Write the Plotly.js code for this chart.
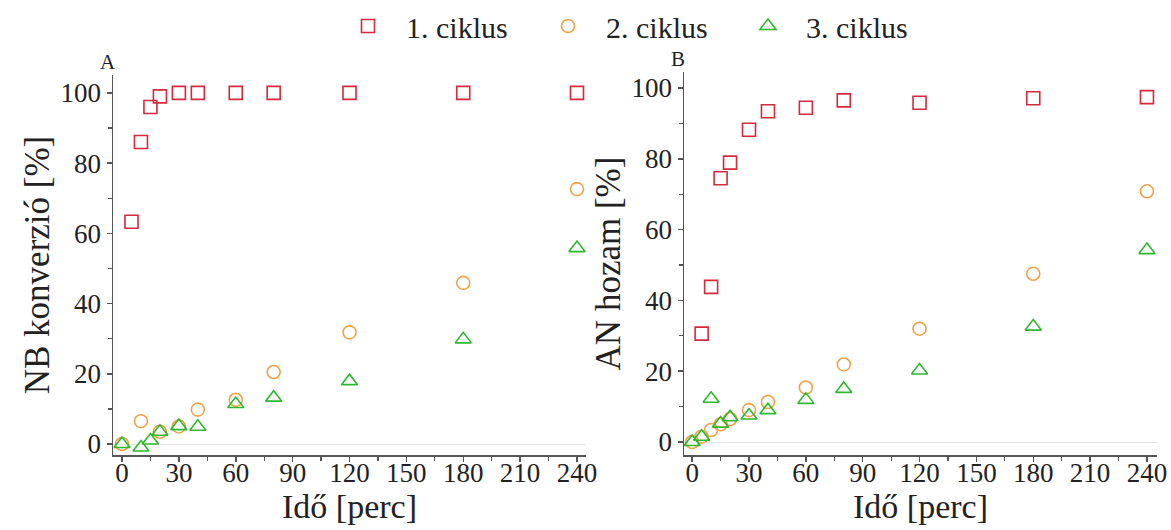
<!DOCTYPE html>
<html>
<head>
<meta charset="utf-8">
<script src="https://cdn.plot.ly/plotly-3.0.1.min.js"></script>
<style>html,body{margin:0;padding:0;background:#fff;}#chart{width:1171px;height:530px;}</style>
</head>
<body>
<div id="chart"></div>
<script>
// Panel A: NB konverzió [%]
const timeA_c1 = [5, 10, 15, 20, 30, 40, 60, 80, 120, 180, 240];
const convA_c1 = [63.3, 86, 96, 99, 100, 100, 100, 100, 100, 100, 100];
const timeA_c2 = [0, 10, 20, 30, 40, 60, 80, 120, 180, 240];
const convA_c2 = [0, 6.5, 3.5, 5, 9.8, 12.6, 20.5, 31.8, 45.9, 72.6];
const timeA_c3 = [0, 10, 15, 20, 30, 40, 60, 80, 120, 180, 240];
const convA_c3 = [0, -1, 1, 3.5, 5.1, 4.9, 11.4, 13.2, 17.9, 29.8, 55.8];

// Panel B: AN hozam [%]
const timeB_c1 = [5, 10, 15, 20, 30, 40, 60, 80, 120, 180, 240];
const yieldB_c1 = [30.6, 43.8, 74.5, 78.9, 88.2, 93.4, 94.4, 96.5, 95.8, 97.1, 97.4];
const timeB_c2 = [0, 5, 10, 15, 20, 30, 40, 60, 80, 120, 180, 240];
const yieldB_c2 = [0, 1.5, 3.4, 5, 6.5, 9, 11.3, 15.4, 21.9, 32, 47.5, 70.8];
const timeB_c3 = [0, 5, 10, 15, 20, 30, 40, 60, 80, 120, 180, 240];
const yieldB_c3 = [0, 1.5, 12.2, 5.2, 7, 7.5, 9, 11.9, 15, 20.2, 32.6, 54.2];

const seriesNames = ['1. ciklus', '2. ciklus', '3. ciklus'];
const xTickVals = [0, 30, 60, 90, 120, 150, 180, 210, 240];
const yTickVals = [0, 20, 40, 60, 80, 100];
const xTitle = 'Idő [perc]';
const yTitleA = 'NB konverzió [%]';
const yTitleB = 'AN hozam [%]';
const panelLabels = ['A', 'B'];

const FONT = '"Liberation Serif", "Times New Roman", Times, serif';
const colors = ['#d42a3c', '#f0a24a', '#2fb82f'];
const symbols = ['square-open', 'circle-open', 'triangle-up-open'];
const sizes = [13, 13, 14];

function tr(x, y, i, xa, ya, show) {
  return {
    x: x, y: y, type: 'scatter', mode: 'markers', name: seriesNames[i],
    xaxis: xa, yaxis: ya, showlegend: show, legendgroup: 'g' + i,
    marker: {symbol: symbols[i], size: sizes[i], color: colors[i], line: {color: colors[i], width: 1.6}}
  };
}

const data = [
  tr(timeA_c1, convA_c1, 0, 'x', 'y', true),
  tr(timeA_c2, convA_c2, 1, 'x', 'y', true),
  tr(timeA_c3, convA_c3, 2, 'x', 'y', true),
  tr(timeB_c1, yieldB_c1, 0, 'x2', 'y2', false),
  tr(timeB_c2, yieldB_c2, 1, 'x2', 'y2', false),
  tr(timeB_c3, yieldB_c3, 2, 'x2', 'y2', false)
];

function xax(domain, range, anchor) {
  return {
    domain: domain, range: range, anchor: anchor, automargin: false,
    tickvals: xTickVals, ticks: 'outside', ticklen: 5, tickwidth: 1.5, tickcolor: '#555',
    ticklabelposition: 'outside', ticklabelstandoff: -12,
    minor: {dtick: 15, tick0: 15, ticks: 'outside', ticklen: 4, tickwidth: 1.2, tickcolor: '#555'},
    showline: true, linecolor: '#555', linewidth: 1.5, showgrid: false, zeroline: false,
    tickfont: {family: FONT, size: 27, color: '#222'},
    title: {text: xTitle, font: {family: FONT, size: 34, color: '#222'}, standoff: 0}
  };
}
function yax(domain, range, anchor, title) {
  return {
    domain: domain, range: range, anchor: anchor, automargin: false,
    tickvals: yTickVals, ticks: 'outside', ticklen: 5, tickwidth: 1.5, tickcolor: '#555',
    minor: {dtick: 20, tick0: 10, ticks: 'outside', ticklen: 4, tickwidth: 1.2, tickcolor: '#555'},
    showline: true, linecolor: '#555', linewidth: 1.5, showgrid: false,
    zeroline: true, zerolinecolor: '#e4e4e4', zerolinewidth: 1,
    tickfont: {family: FONT, size: 27, color: '#222'},
    title: {text: title, font: {family: FONT, size: 35, color: '#222'}, standoff: 0}
  };
}

const layout = {
  width: 1171, height: 530,
  margin: {l: 0, r: 0, t: 0, b: 0},
  paper_bgcolor: '#fff', plot_bgcolor: '#fff',
  font: {family: FONT, color: '#222'},
  showlegend: true,
  legend: {orientation: 'h', x: 330/1171, xanchor: 'left', y: 1.0, yanchor: 'top',
           itemwidth: 66, entrywidth: 119, entrywidthmode: 'pixels',
           font: {family: FONT, size: 30, color: '#222'}, bgcolor: 'rgba(0,0,0,0)'},
  xaxis: xax([113/1171, 586/1171], [-4.75, 244.75], 'y'),
  yaxis: yax([1 - 455/530, 1 - 75/530], [-3.13, 105.1], 'x', yTitleA),
  xaxis2: xax([684/1171, 1157/1171], [-4.3, 245.3], 'y2'),
  yaxis2: yax([1 - 455/530, 1 - 72/530], [-3.67, 104.5], 'x2', yTitleB),
  annotations: [
    {text: panelLabels[0], xref: 'paper', yref: 'paper', x: 108/1171, y: 1 - 62/530, xanchor: 'center', yanchor: 'middle', showarrow: false, font: {family: FONT, size: 21, color: '#222'}},
    {text: panelLabels[1], xref: 'paper', yref: 'paper', x: 678/1171, y: 1 - 59/530, xanchor: 'center', yanchor: 'middle', showarrow: false, font: {family: FONT, size: 21, color: '#222'}}
  ]
};

Plotly.newPlot('chart', data, layout, {displayModeBar: false, staticPlot: true});
</script>
</body>
</html>
